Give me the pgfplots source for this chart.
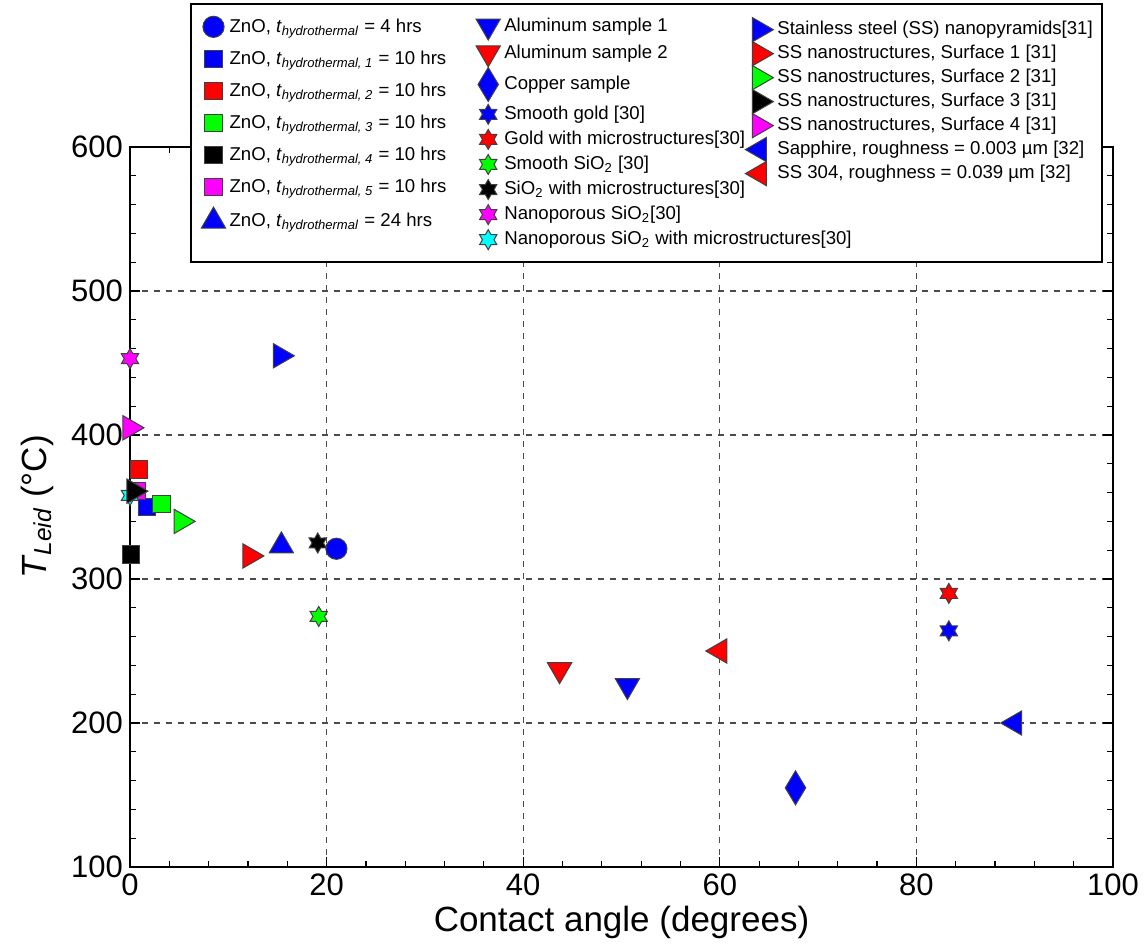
\documentclass[border=0pt]{standalone}
\usepackage{fontspec}
\setmainfont{Liberation Sans}
\usepackage{pgfplots}
\pgfplotsset{compat=1.18}

\pgfdeclareplotmark{hexstar}{%
  \pgfpathmoveto{\pgfqpointpolar{90}{\pgfplotmarksize}}%
  \pgfpathlineto{\pgfqpointpolar{120}{0.577\pgfplotmarksize}}%
  \pgfpathlineto{\pgfqpointpolar{150}{\pgfplotmarksize}}%
  \pgfpathlineto{\pgfqpointpolar{180}{0.577\pgfplotmarksize}}%
  \pgfpathlineto{\pgfqpointpolar{210}{\pgfplotmarksize}}%
  \pgfpathlineto{\pgfqpointpolar{240}{0.577\pgfplotmarksize}}%
  \pgfpathlineto{\pgfqpointpolar{270}{\pgfplotmarksize}}%
  \pgfpathlineto{\pgfqpointpolar{300}{0.577\pgfplotmarksize}}%
  \pgfpathlineto{\pgfqpointpolar{330}{\pgfplotmarksize}}%
  \pgfpathlineto{\pgfqpointpolar{0}{0.577\pgfplotmarksize}}%
  \pgfpathlineto{\pgfqpointpolar{30}{\pgfplotmarksize}}%
  \pgfpathlineto{\pgfqpointpolar{60}{0.577\pgfplotmarksize}}%
  \pgfpathclose
  \pgfusepathqfillstroke}

\definecolor{lime}{RGB}{0,255,0}
\definecolor{mag}{RGB}{255,0,255}
\definecolor{cy}{RGB}{0,255,255}

\pgfplotsset{
  sty/.style n args={4}{only marks, mark=#1, mark size=#2,
    mark options={solid, fill=#3, draw=black!75, line width=0.5pt, rotate=#4}},
  base/.style={scale only axis, width=491.5pt, height=360pt,
    xmin=0, xmax=100, ymin=100, ymax=600},
}
\newcommand{\thyd}[1]{\textit{t}\textsubscript{\textit{#1}}}

\begin{document}
\begin{tikzpicture}
\begin{axis}[
  base,
  xtick={0,20,...,100}, ytick={100,200,...,600},
  minor x tick num=4, minor y tick num=4,
  tick align=inside, major tick length=5pt, minor tick length=3pt,
  grid=major, major grid style={dashed, black!70, line width=0.6pt},
  axis line style={line width=1pt},
  tick style={black, line width=0.6pt},
  clip=false,
  /pgf/number format/assume math mode=true,
  ticklabel style={font=\fontsize{15.5}{16}\selectfont},
  xlabel={Contact angle (degrees)},
  ylabel={\textit{T}\textsubscript{\textit{Leid}} (°C)},
  label style={font=\fontsize{17.5}{18}\selectfont},
  xlabel style={at={(axis description cs:0.5,-0.0764)}, anchor=center},
  ylabel style={at={(axis description cs:-0.0946,0.5)}, anchor=center},
  legend columns=9, transpose legend,
  legend style={at={(axis description cs:0.9898,1.2)}, anchor=north east,
    font=\fontsize{9.3}{11}\selectfont, draw=black, line width=0.8pt,
    fill=white, cells={anchor=west}, row sep=0.3pt,
    inner xsep=0pt, inner ysep=5pt,
    /tikz/every even column/.append style={column sep=-1pt}},
]
% ZnO series (legend drawn by the second axis)
\addplot[sty={*}{5.3pt}{blue}{0}, forget plot] coordinates {(21,321)};
\addplot[sty={square*}{4.3pt}{blue}{0}, forget plot] coordinates {(1.7,350)};
\addplot[sty={square*}{4.3pt}{red}{0}, forget plot] coordinates {(0.9,376)};
\addplot[sty={square*}{4.3pt}{lime}{0}, forget plot] coordinates {(3.2,352)};
\addplot[sty={square*}{4.3pt}{black}{0}, forget plot] coordinates {(0.1,317)};
\addplot[sty={square*}{4.3pt}{mag}{0}, forget plot] coordinates {(0.75,361)};
\addplot[sty={triangle*}{7pt}{blue}{0}, forget plot] coordinates {(15.4,323)};
% blank first legend column (room for the ZnO entries)
\addlegendimage{empty legend}\addlegendentry{\hspace*{139.5pt}}
\addlegendimage{empty legend}\addlegendentry{}
\addlegendimage{empty legend}\addlegendentry{}
\addlegendimage{empty legend}\addlegendentry{}
\addlegendimage{empty legend}\addlegendentry{}
\addlegendimage{empty legend}\addlegendentry{}
\addlegendimage{empty legend}\addlegendentry{}
\addlegendimage{empty legend}\addlegendentry{}
\addlegendimage{empty legend}\addlegendentry{}
% column 2
\addplot[sty={triangle*}{7pt}{blue}{180}] coordinates {(50.6,226)};
\addlegendentry{Aluminum sample 1}
\addplot[sty={triangle*}{7pt}{red}{180}] coordinates {(43.7,237)};
\addlegendentry{Aluminum sample 2}
\addplot[only marks, mark=diamond*, mark size=8.5pt,
  mark options={solid, fill=blue, draw=black!75, line width=0.5pt, xscale=0.8}] coordinates {(67.7,155)};
\addlegendentry{Copper sample}
\addplot[sty={hexstar}{5pt}{blue}{0}] coordinates {(83.3,264)};
\addlegendentry{Smooth gold [30]}
\addplot[sty={hexstar}{5pt}{red}{0}] coordinates {(83.3,290)};
\addlegendentry{Gold with microstructures[30]}
\addplot[sty={hexstar}{5pt}{lime}{0}] coordinates {(19.2,274)};
\addlegendentry{Smooth SiO\textsubscript{2} [30]}
\addplot[sty={hexstar}{5pt}{black}{0}] coordinates {(19.1,325)};
\addlegendentry{SiO\textsubscript{2} with microstructures[30]}
\addplot[sty={hexstar}{5pt}{mag}{0}] coordinates {(0,453)};
\addlegendentry{Nanoporous SiO\textsubscript{2}[30]}
\addplot[sty={hexstar}{5pt}{cy}{0}] coordinates {(0,358)};
\addlegendentry{\rlap{Nanoporous SiO\textsubscript{2} with microstructures[30]}}
% column 3 series (legend drawn by the third axis)
\addplot[sty={triangle*}{7pt}{blue}{-90}, forget plot] coordinates {(15.3,455)};
\addplot[sty={triangle*}{7pt}{red}{-90}, forget plot] coordinates {(12.2,316)};
\addplot[sty={triangle*}{7pt}{lime}{-90}, forget plot] coordinates {(5.2,340)};
\addplot[sty={triangle*}{7pt}{black}{-90}, forget plot] coordinates {(0.4,361)};
\addplot[sty={triangle*}{7pt}{mag}{-90}, forget plot] coordinates {(0,405)};
\addplot[sty={triangle*}{7pt}{blue}{90}, forget plot] coordinates {(90,200)};
\addplot[sty={triangle*}{7pt}{red}{90}, forget plot] coordinates {(60,250)};
% blank third legend column
\addlegendimage{empty legend}\addlegendentry{\hspace*{173.5pt}}
\addlegendimage{empty legend}\addlegendentry{}
\addlegendimage{empty legend}\addlegendentry{}
\addlegendimage{empty legend}\addlegendentry{}
\addlegendimage{empty legend}\addlegendentry{}
\addlegendimage{empty legend}\addlegendentry{}
\addlegendimage{empty legend}\addlegendentry{}
\addlegendimage{empty legend}\addlegendentry{}
\addlegendimage{empty legend}\addlegendentry{}
\end{axis}
% second axis: only the legend of the ZnO series
\begin{axis}[
  base, hide axis,
  legend style={at={(axis description cs:0.0661,1.19)}, anchor=north west,
    font=\fontsize{9.3}{11}\selectfont, draw=none, fill=none,
    cells={anchor=west}, row sep=3.8pt},
]
\addlegendimage{sty={*}{5.3pt}{blue}{0}}
\addlegendentry{ZnO, \thyd{hydrothermal} = 4 hrs}
\addlegendimage{sty={square*}{4.3pt}{blue}{0}}
\addlegendentry{ZnO, \thyd{hydrothermal, 1} = 10 hrs}
\addlegendimage{sty={square*}{4.3pt}{red}{0}}
\addlegendentry{ZnO, \thyd{hydrothermal, 2} = 10 hrs}
\addlegendimage{sty={square*}{4.3pt}{lime}{0}}
\addlegendentry{ZnO, \thyd{hydrothermal, 3} = 10 hrs}
\addlegendimage{sty={square*}{4.3pt}{black}{0}}
\addlegendentry{ZnO, \thyd{hydrothermal, 4} = 10 hrs}
\addlegendimage{sty={square*}{4.3pt}{mag}{0}}
\addlegendentry{ZnO, \thyd{hydrothermal, 5} = 10 hrs}
\addlegendimage{sty={triangle*}{7pt}{blue}{0}}
\addlegendentry{ZnO, \thyd{hydrothermal} = 24 hrs}
\end{axis}
% third axis: only the legend of the stainless steel / sapphire series
\begin{axis}[
  base, hide axis,
  legend style={at={(axis description cs:0.6195,1.186)}, anchor=north west,
    font=\fontsize{9.3}{11}\selectfont, draw=none, fill=none,
    cells={anchor=west}, row sep=-0.25pt},
]
\addlegendimage{sty={triangle*}{7pt}{blue}{-90}}
\addlegendentry{Stainless steel (SS) nanopyramids[31]}
\addlegendimage{sty={triangle*}{7pt}{red}{-90}}
\addlegendentry{SS nanostructures, Surface 1 [31]}
\addlegendimage{sty={triangle*}{7pt}{lime}{-90}}
\addlegendentry{SS nanostructures, Surface 2 [31]}
\addlegendimage{sty={triangle*}{7pt}{black}{-90}}
\addlegendentry{SS nanostructures, Surface 3 [31]}
\addlegendimage{sty={triangle*}{7pt}{mag}{-90}}
\addlegendentry{SS nanostructures, Surface 4 [31]}
\addlegendimage{sty={triangle*}{7pt}{blue}{90}}
\addlegendentry{Sapphire, roughness = 0.003 µm [32]}
\addlegendimage{sty={triangle*}{7pt}{red}{90}}
\addlegendentry{SS 304, roughness = 0.039 µm [32]}
\end{axis}
\pgfresetboundingbox
\path[use as bounding box] ([xshift=-65pt,yshift=-39pt]current axis.south west)
  rectangle ([xshift=17.5pt,yshift=73.5pt]current axis.north east);
\end{tikzpicture}
\end{document}
